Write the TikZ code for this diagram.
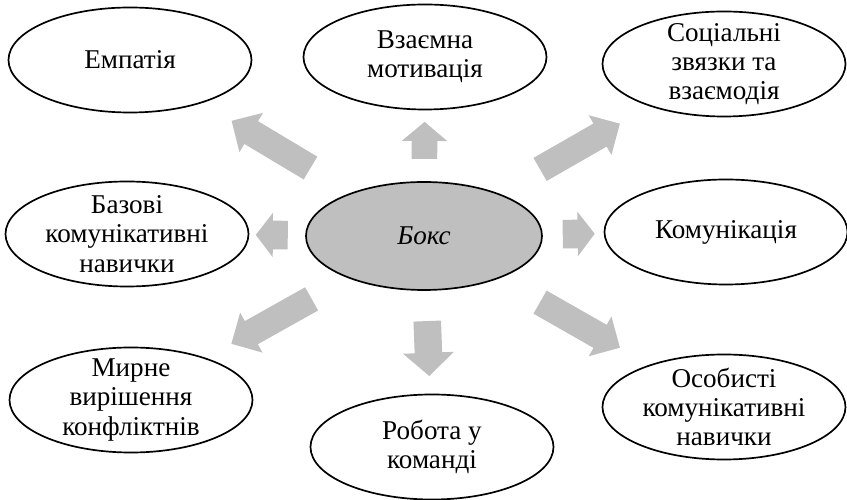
\documentclass[tikz,border=0pt]{standalone}
\usepackage{fontspec}
\setmainfont{Liberation Serif}
\usetikzlibrary{shapes.geometric,shapes.arrows}

\tikzset{
  bubble/.style={ellipse, draw, line width=1.2pt, minimum width=6.075cm, minimum height=2.625cm, inner sep=0pt},
  txt/.style={align=center, font=\fontsize{19.3}{20.8}\selectfont, inner sep=0pt},
  bigarrow/.style={single arrow, fill=gray!50, draw=none, inner xsep=0pt, sloped, allow upside down, midway},
  diagarrow/.style={bigarrow, minimum height=2.3cm, inner ysep=0.325cm, single arrow head extend=0.24cm},
  sidearrow/.style={bigarrow, minimum height=0.8cm, inner ysep=0.35cm, single arrow head extend=0.2cm, single arrow tip angle=105}
}

\begin{document}
\begin{tikzpicture}
\useasboundingbox (0,0) rectangle (21.175,12.5);
% centre
\node[bubble, fill=gray!50, minimum width=5.9cm, minimum height=2.7cm, label={[txt]center:\textit{Бокс}}] (box) at (10.6,6.6) {};
% top row
\node[bubble, label={[txt]center:Емпатія}] (emp) at (3.25,11.0) {};
\node[bubble, label={[txt]center:{Взаємна\\мотивація}}] (vzm) at (10.625,11.075) {};
\node[bubble, label={[txt]center:{Соціальні\\звязки та\\взаємодія}}] (soc) at (18.1,10.9) {};
% middle row
\node[bubble, label={[txt]center:{Базові\\комунікативні\\навички}}] (baz) at (3.175,6.65) {};
\node[bubble, label={[txt]center:Комунікація}] (kom) at (18.15,6.7) {};
% bottom row
\node[bubble, label={[txt]center:{Мирне\\вирішення\\конфліктнів}}] (myr) at (3.275,2.5) {};
\node[bubble, label={[txt]center:{Робота у\\команді}}] (rob) at (10.8,1.325) {};
\node[bubble, label={[txt]center:{Особисті\\комунікативні\\навички}}] (oso) at (18.1,2.325) {};
% arrows
\path (box) -- (emp) node[diagarrow] {};
\path (box) -- (soc) node[diagarrow] {};
\path (box) -- (myr) node[diagarrow] {};
\path (box) -- (oso) node[diagarrow] {};
\path (box) -- (baz) node[sidearrow] {};
\path (box) -- (kom) node[sidearrow] {};
\path (box) -- (vzm) node[sidearrow, minimum height=0.925cm, inner ysep=0.3125cm, single arrow head extend=0.25cm, single arrow tip angle=100] {};
\path (box) -- (rob) node[sidearrow, minimum height=1.375cm, inner ysep=0.3375cm, single arrow head extend=0.29cm, single arrow tip angle=95] {};
\end{tikzpicture}
\end{document}
